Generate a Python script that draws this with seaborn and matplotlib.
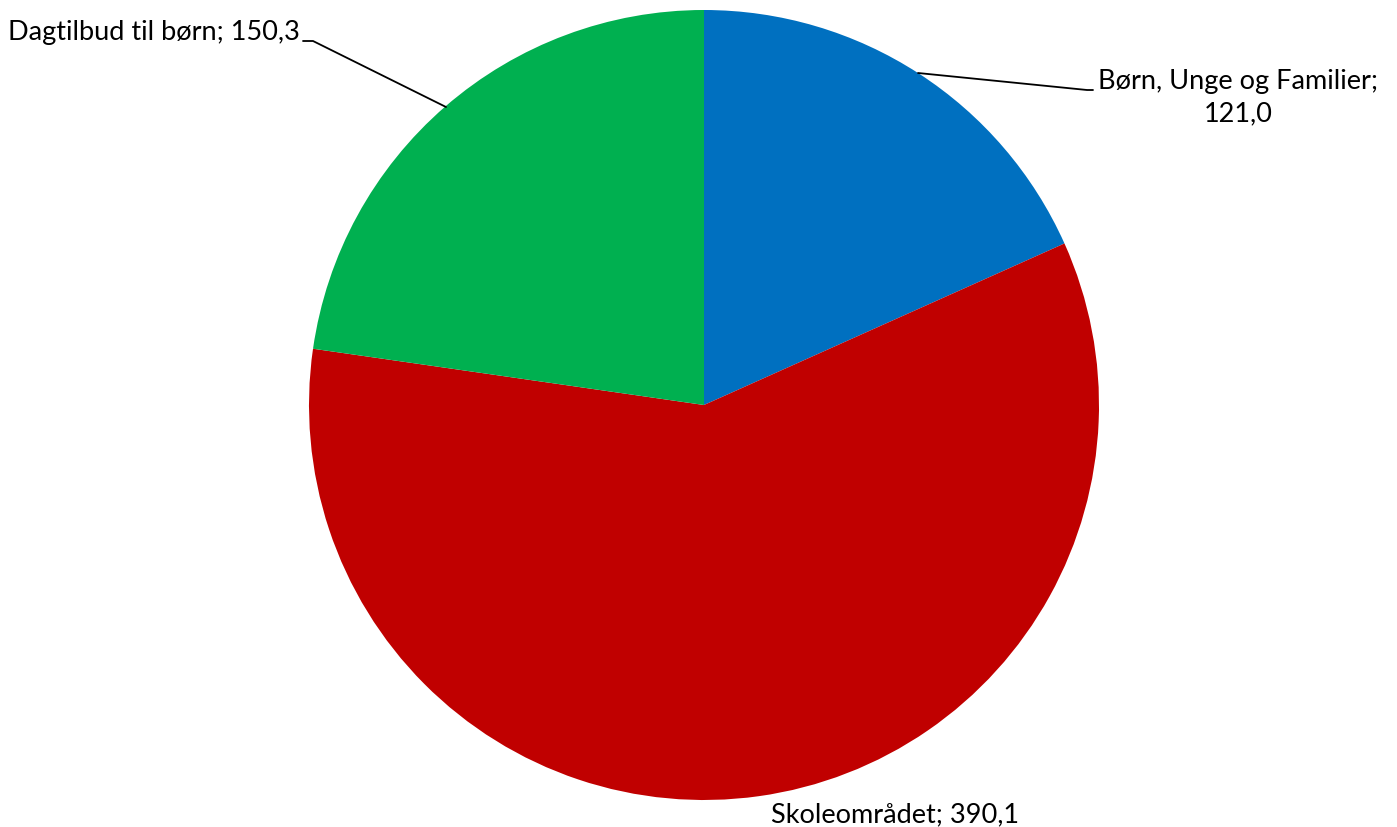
import matplotlib
matplotlib.use("Agg")
import matplotlib.pyplot as plt
import seaborn as sns

categories = ["Børn, Unge og Familier", "Skoleområdet", "Dagtilbud til børn"]
values = [121.0, 390.1, 150.3]
value_labels = ["121,0", "390,1", "150,3"]
colors = ["#0070C0", "#C00000", "#00B050"]

sns.set_theme(style="white")
plt.rcParams['font.family'] = ['Lato', 'DejaVu Sans']

W, H = 1397, 828
fig = plt.figure(figsize=(W / 100, H / 100), dpi=100)
ax = fig.add_axes([0, 0, 1, 1])
ax.set_xlim(0, W)
ax.set_ylim(0, H)
ax.set_aspect('equal')
ax.axis('off')

cx, cy, r = 704, H - 406, 395
ax.pie(values, colors=colors, startangle=90, counterclock=False,
       center=(cx, cy), radius=r, wedgeprops=dict(linewidth=0))
ax.set_xlim(0, W)
ax.set_ylim(0, H)

fs = 19.5
# Label 1
ax.text(1238, H - 98, f"{categories[0]};\n{value_labels[0]}", ha='center', va='center',
        fontsize=fs, color='black', linespacing=1.35)
ax.plot([918, 1087, 1093], [H - 74, H - 91, H - 91], color='black', lw=1.3)
# Label 2
ax.text(895, H - 815, f"{categories[1]}; {value_labels[1]}", ha='center', va='center',
        fontsize=fs, color='black')
# Label 3
ax.text(8, H - 32, f"{categories[2]}; {value_labels[2]}", ha='left', va='center',
        fontsize=fs, color='black')
ax.plot([303, 313, 446], [H - 42, H - 42, H - 108], color='black', lw=1.3)

fig.savefig("out.png", dpi=100)
